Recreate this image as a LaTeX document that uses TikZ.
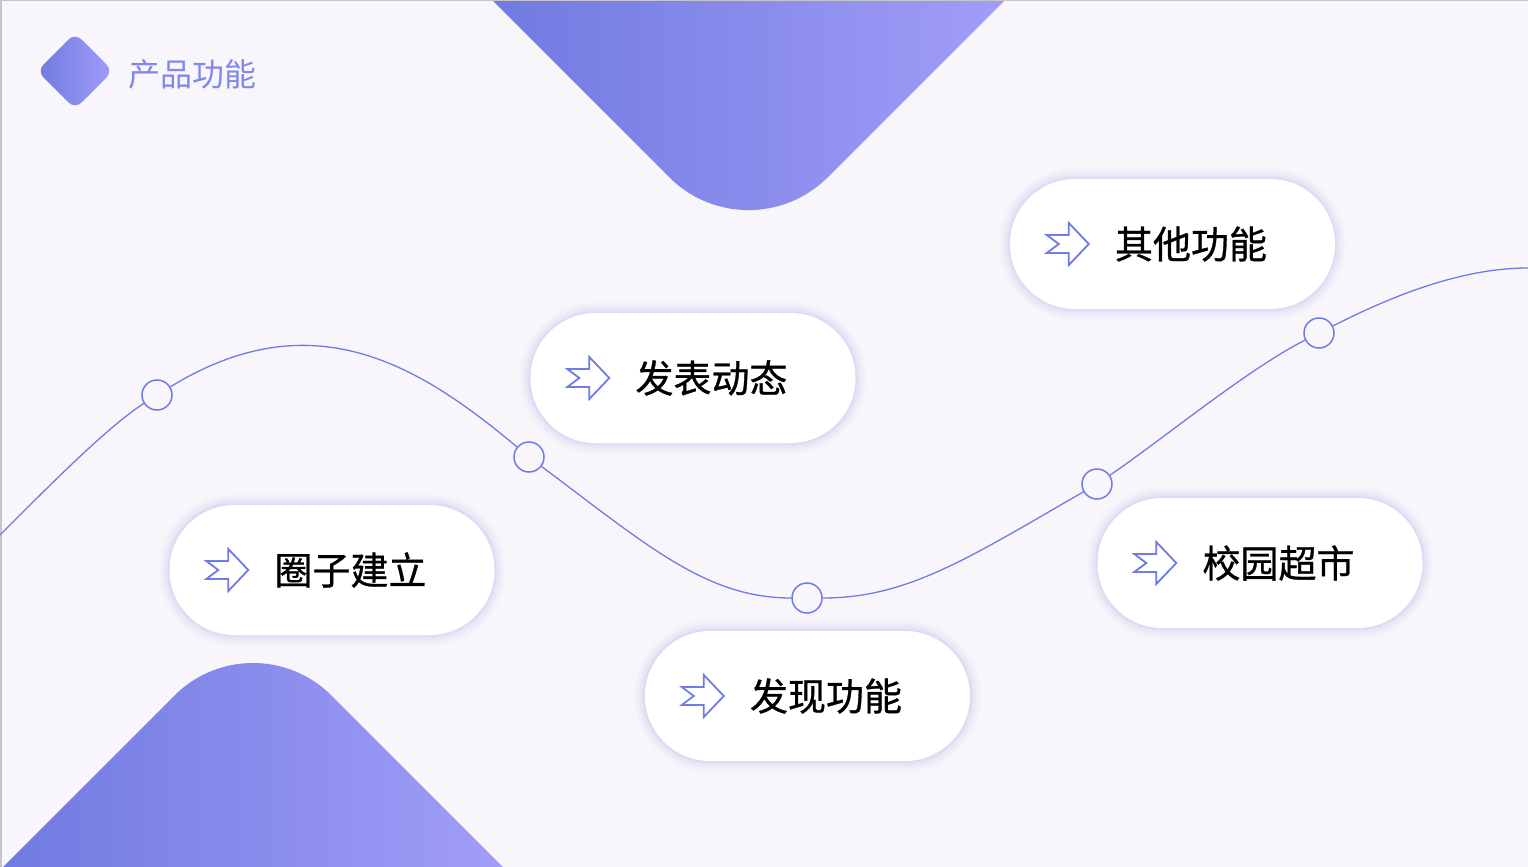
\documentclass[tikz,border=0pt]{standalone}
\usepackage{fontspec}
\newfontfamily\cjk{Noto Sans CJK SC}
\newfontfamily\cjkbold{Noto Sans CJK SC}[FakeBold=0.8]
\definecolor{bg}{HTML}{F8F6FA}
\definecolor{wave}{HTML}{6F7BE6}
\definecolor{gradL}{HTML}{707AE0}
\definecolor{gradR}{HTML}{A29DF8}
\definecolor{glow}{HTML}{BDB8F0}
\definecolor{titlec}{HTML}{8088EA}
\tikzset{
  pill/.style={rectangle,rounded corners=65pt,minimum width=325pt,minimum height=130pt,inner sep=0pt,fill=white,
    preaction={draw=glow,line width=22pt,draw opacity=.04},
    preaction={draw=glow,line width=18pt,draw opacity=.05},
    preaction={draw=glow,line width=14pt,draw opacity=.07},
    preaction={draw=glow,line width=10pt,draw opacity=.09},
    preaction={draw=glow,line width=6pt,draw opacity=.12},
    preaction={draw=glow,line width=3pt,draw opacity=.15}},
  pilltext/.style={anchor=west,inner sep=0pt,font=\cjkbold\fontsize{38}{40}\selectfont,text=black},
  dot/.style={circle,minimum size=30pt,inner sep=0pt,draw=wave,line width=1.5pt,fill=bg},
  grad/.style={left color=gradL,right color=gradR},
  fwdicon/.pic={\draw[wave,line width=1.8pt,line join=miter] (0,-9) -- (22,-9) -- (22,-21) -- (42,0) -- (22,21) -- (22,9) -- (0,9) -- (12,0) -- cycle;}
}
\begin{document}
\begin{tikzpicture}[x=1pt,y=-1pt]
  \useasboundingbox (0,0) rectangle (1528,867);
  \fill[bg] (0,0) rectangle (1528,867);
  % corner shapes
  \begin{scope}
    \clip[rounded corners=112pt] (292,-200) -- (748.5,256.5) -- (1205,-200) -- cycle;
    \shade[grad] (492,0) rectangle (1005,260);
  \end{scope}
  \begin{scope}
    \clip[rounded corners=111pt] (-147,1017) -- (253,617) -- (653,1017) -- cycle;
    \shade[grad] (3,610) rectangle (503,867);
  \end{scope}
  \draw[gray!45,line width=1.5pt] (0.75,867) -- (0.75,0.75) -- (1528,0.75);
  % logo and title
  \shade[grad,rounded corners=9pt] (37,71) -- (75,33) -- (113,71) -- (75,109) -- cycle;
  \node[anchor=west,inner sep=0pt,font=\cjk\fontsize{32}{34}\selectfont,text=titlec] (title) at (128,74) {产品功能};
  % wave with its points
  \coordinate (wstart) at (0,535);
  \coordinate (wend) at (1528,268);
  \node[dot] (d1) at (157,395) {};
  \node[dot] (d2) at (529,457) {};
  \node[dot] (d3) at (807,598) {};
  \node[dot] (d4) at (1097,484) {};
  \node[dot] (d5) at (1319,333) {};
  \draw[wave,line width=1.3pt] (wstart) .. controls (45,490) and (107,427) .. (d1);
  \draw[wave,line width=1.3pt] (d1) .. controls (312,300) and (418,364) .. (d2);
  \draw[wave,line width=1.3pt] (d2) .. controls (649,547) and (707,598) .. (d3);
  \draw[wave,line width=1.3pt] (d3) .. controls (907,598) and (967,559) .. (d4);
  \draw[wave,line width=1.3pt] (d4) .. controls (1163,439) and (1248,369) .. (d5);
  \draw[wave,line width=1.3pt] (d5) .. controls (1390,297) and (1460,268) .. (wend);
  % feature pills
  \node[pill] (quanzi) at (332,570) {};
  \pic at ([xshift=37pt]quanzi.west) {fwdicon};
  \node[pilltext] (quanzit) at ([xshift=105pt]quanzi.west) {圈子建立};
  \node[pill] (fabiao) at (693,378) {};
  \pic at ([xshift=37pt]fabiao.west) {fwdicon};
  \node[pilltext] (fabiaot) at ([xshift=105pt]fabiao.west) {发表动态};
  \node[pill] (faxian) at (807.5,696) {};
  \pic at ([xshift=37pt]faxian.west) {fwdicon};
  \node[pilltext] (faxiant) at ([xshift=105pt]faxian.west) {发现功能};
  \node[pill] (qita) at (1172.5,244) {};
  \pic at ([xshift=37pt]qita.west) {fwdicon};
  \node[pilltext] (qitat) at ([xshift=105pt]qita.west) {其他功能};
  \node[pill] (xiaoyuan) at (1260,563) {};
  \pic at ([xshift=37pt]xiaoyuan.west) {fwdicon};
  \node[pilltext] (xiaoyuant) at ([xshift=105pt]xiaoyuan.west) {校园超市};
\end{tikzpicture}
\end{document}
